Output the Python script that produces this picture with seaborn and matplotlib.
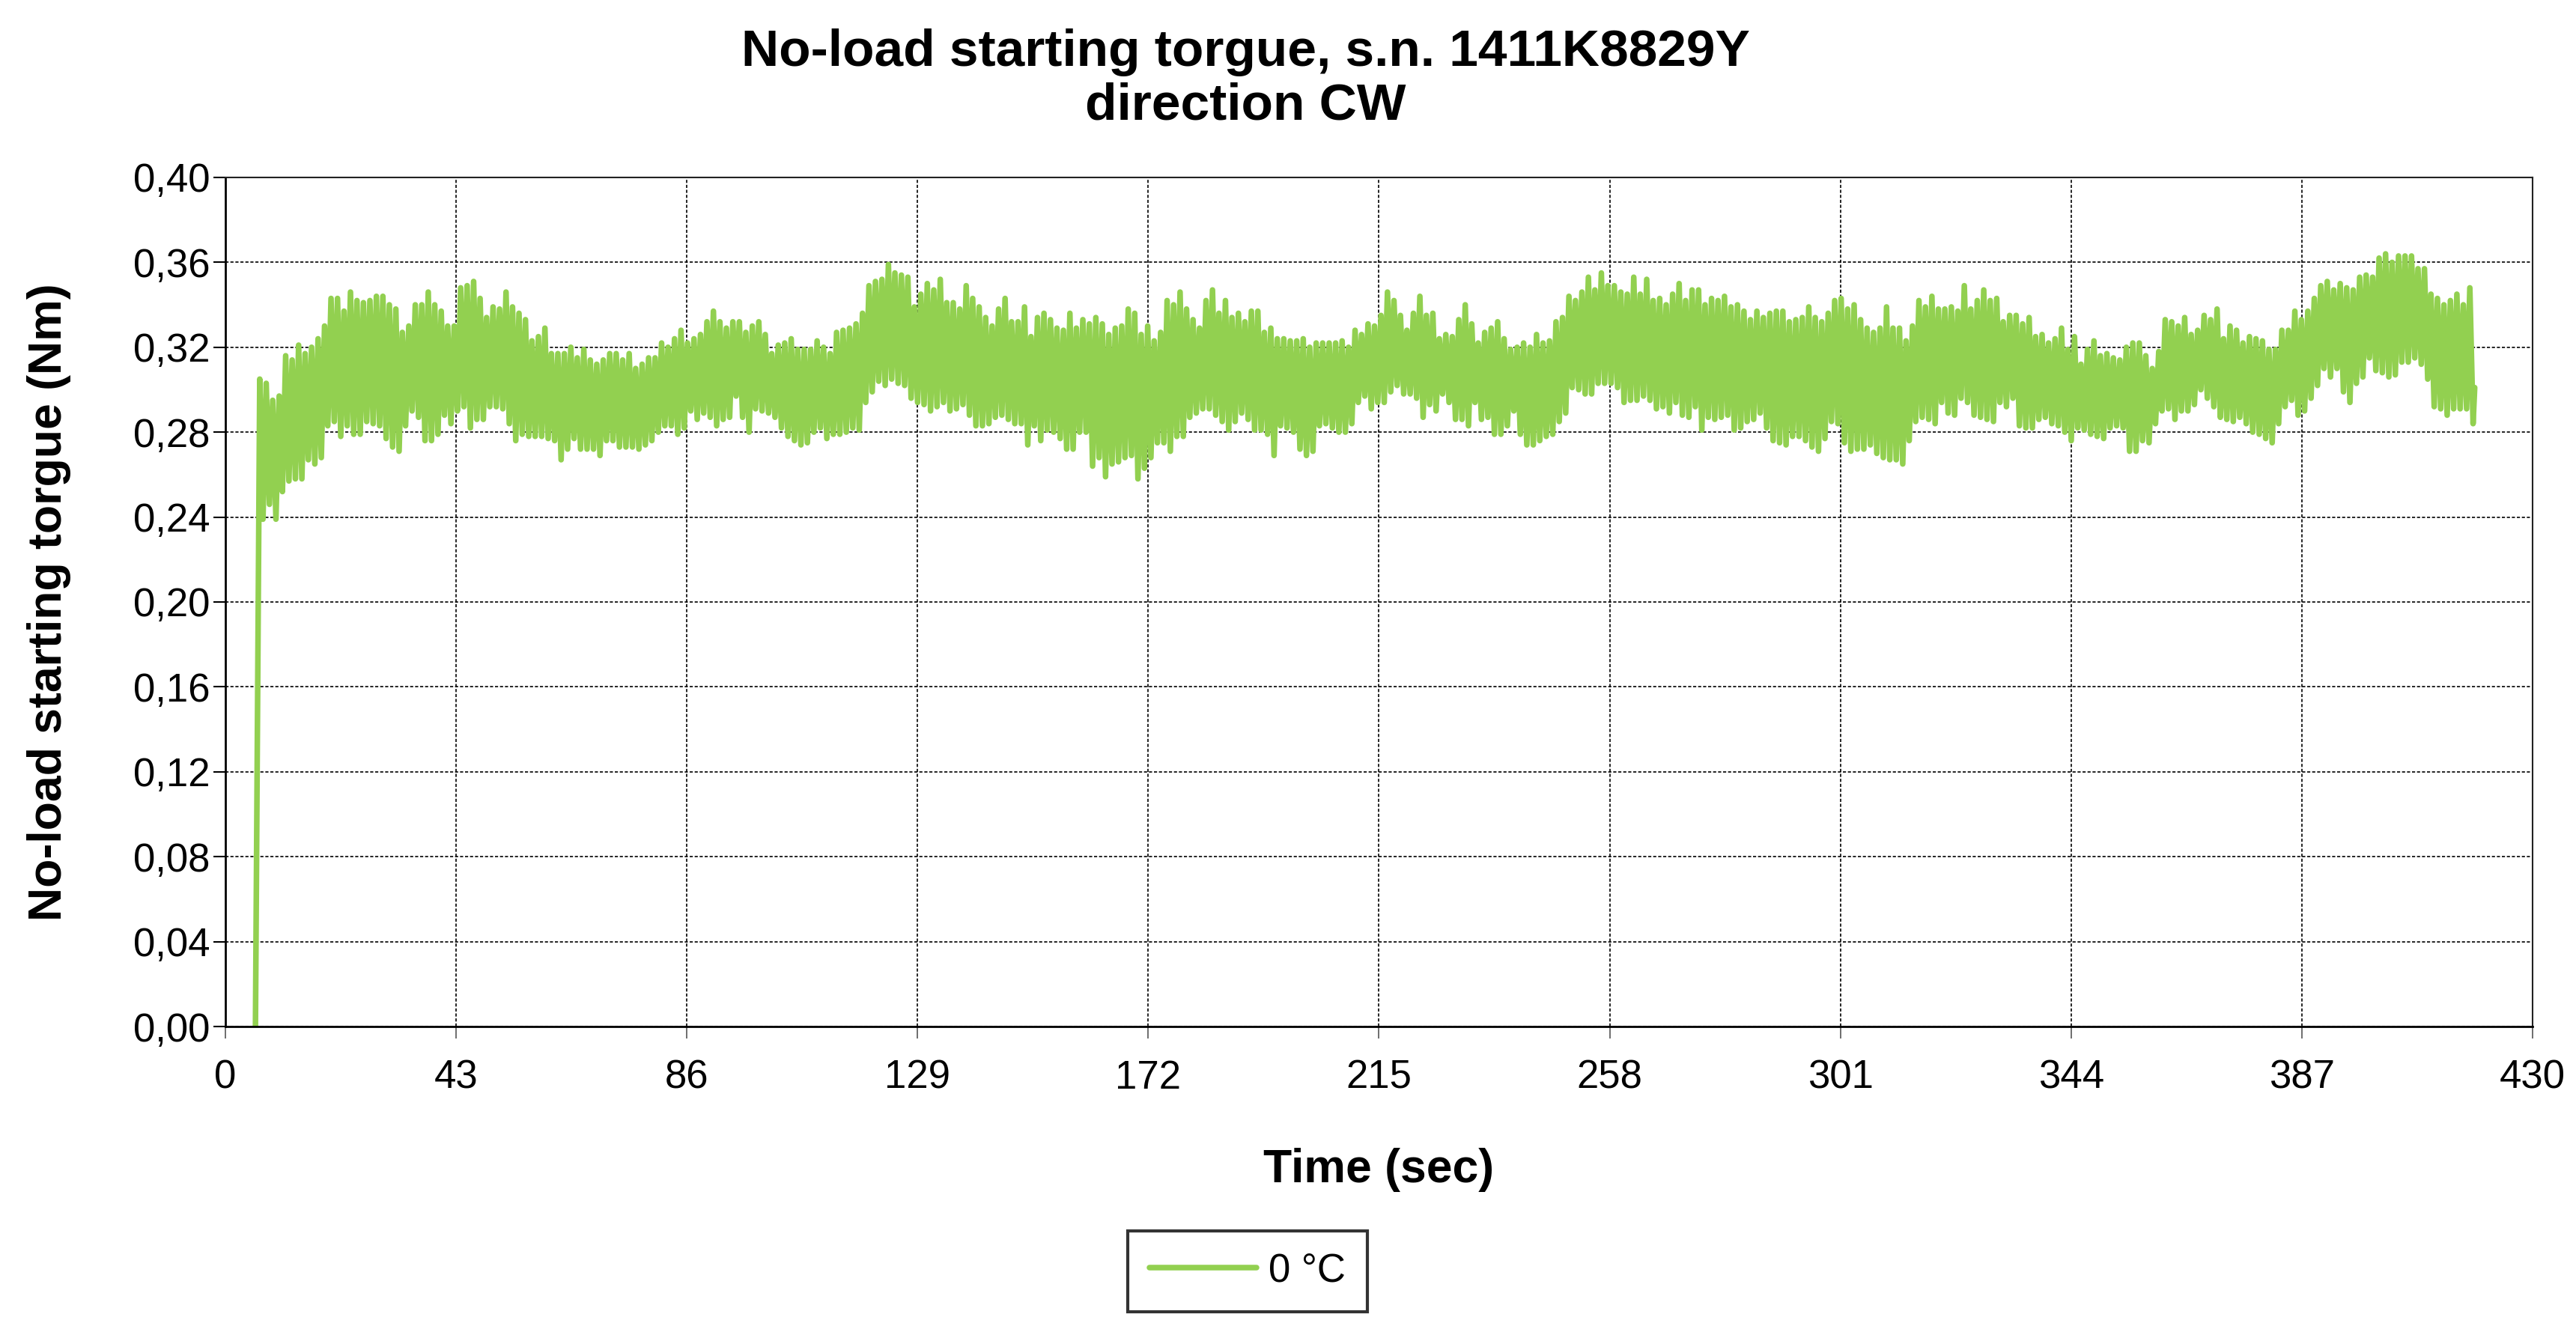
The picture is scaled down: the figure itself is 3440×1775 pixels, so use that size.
"""No-load starting torque trace, s.n. 1411K8829Y, direction CW."""

import matplotlib.pyplot as plt
import numpy as np
import pandas as pd
import seaborn as sns
from matplotlib.ticker import FixedLocator, FuncFormatter

TITLE = "No-load starting torgue, s.n. 1411K8829Y\ndirection CW"
X_LABEL = "Time (sec)"
Y_LABEL = "No-load starting torgue (Nm)"
SERIES_LABEL = "0 °C"

x_ticks = [0, 43, 86, 129, 172, 215, 258, 301, 344, 387, 430]
y_ticks = [0.00, 0.04, 0.08, 0.12, 0.16, 0.20, 0.24, 0.28, 0.32, 0.36, 0.40]

# logged trace: at rest first, then one peak / trough per half cycle
t_rest = 5.6
t_first_peak = 6.4
half_cycle = 0.604
rest_value = 0.0
last_value = 0.301

peaks = [
    0.305, 0.303, 0.295, 0.297, 0.316, 0.314, 0.321, 0.317, 0.320, 0.324,
    0.330, 0.343, 0.343, 0.337, 0.346, 0.342, 0.341, 0.342, 0.344, 0.344,
    0.340, 0.338, 0.327, 0.330, 0.340, 0.340, 0.346, 0.340, 0.337, 0.330,
    0.330, 0.348, 0.349, 0.351, 0.343, 0.334, 0.339, 0.338, 0.346, 0.339,
    0.336, 0.333, 0.323, 0.325, 0.329, 0.317, 0.317, 0.317, 0.320, 0.315,
    0.319, 0.314, 0.312, 0.314, 0.317,
    0.317, 0.314, 0.317, 0.310, 0.312, 0.315, 0.315, 0.322, 0.320, 0.324,
    0.328, 0.322, 0.324, 0.326, 0.332, 0.337, 0.332, 0.329, 0.332, 0.332,
    0.327, 0.330, 0.332, 0.326, 0.317, 0.321, 0.322, 0.324, 0.319, 0.319,
    0.319, 0.323, 0.320, 0.317, 0.327, 0.328, 0.329, 0.331, 0.336, 0.349,
    0.351, 0.352, 0.359, 0.355, 0.354, 0.353, 0.339, 0.345, 0.350, 0.347,
    0.352, 0.341, 0.341, 0.338, 0.349, 0.343, 0.339, 0.334, 0.330, 0.338,
    0.343, 0.332, 0.332, 0.339, 0.325, 0.334, 0.336, 0.333, 0.329, 0.328,
    0.336, 0.329, 0.333, 0.331, 0.334, 0.331, 0.326, 0.329, 0.330, 0.338,
    0.336, 0.326, 0.330, 0.323, 0.327, 0.342, 0.340, 0.346, 0.338, 0.333,
    0.329, 0.342, 0.347, 0.336, 0.342, 0.334, 0.336, 0.332, 0.337, 0.337,
    0.327, 0.329, 0.324, 0.324, 0.323, 0.323, 0.324, 0.320, 0.322, 0.322,
    0.322, 0.322, 0.323, 0.320, 0.328, 0.326, 0.331, 0.330, 0.335, 0.346,
    0.342, 0.335, 0.328, 0.336, 0.344, 0.335, 0.336, 0.324, 0.326, 0.325,
    0.333, 0.340, 0.331, 0.322, 0.327, 0.329, 0.332, 0.324, 0.319, 0.320,
    0.322, 0.320, 0.326, 0.322, 0.323, 0.332, 0.334, 0.344, 0.342, 0.346,
    0.353, 0.347, 0.355, 0.349, 0.349, 0.346, 0.345, 0.353, 0.345, 0.352,
    0.342, 0.343, 0.340, 0.345, 0.350, 0.342, 0.347, 0.347, 0.340, 0.343,
    0.342, 0.344, 0.339, 0.340, 0.337, 0.333, 0.337, 0.334, 0.336, 0.337,
    0.337, 0.332, 0.333, 0.334, 0.339, 0.334, 0.332, 0.336, 0.342, 0.343,
    0.338, 0.340, 0.333, 0.329, 0.327, 0.329, 0.339, 0.329, 0.329, 0.323,
    0.330, 0.342, 0.339, 0.344, 0.338, 0.338, 0.339, 0.337, 0.349, 0.338,
    0.342, 0.347, 0.342, 0.343, 0.332, 0.335, 0.335, 0.331, 0.334, 0.325,
    0.326, 0.322, 0.324, 0.329, 0.319, 0.325, 0.312, 0.319, 0.323, 0.316,
    0.317, 0.315, 0.314, 0.320, 0.322, 0.322, 0.316, 0.310, 0.318, 0.333,
    0.332, 0.330, 0.334, 0.326, 0.328, 0.335, 0.333, 0.338, 0.324, 0.330,
    0.328, 0.322, 0.325, 0.324, 0.323, 0.319, 0.319, 0.328, 0.328, 0.337,
    0.333, 0.337, 0.343, 0.349, 0.351, 0.347, 0.350, 0.348, 0.347, 0.353,
    0.354, 0.353, 0.362, 0.364, 0.360, 0.363, 0.363, 0.363, 0.357, 0.357,
    0.345, 0.343, 0.340, 0.342, 0.345, 0.340, 0.348,
]

troughs = [
    0.239, 0.246, 0.239, 0.252, 0.257, 0.258, 0.258, 0.267, 0.265, 0.268,
    0.283, 0.285, 0.278, 0.283, 0.279, 0.279, 0.285, 0.284, 0.283, 0.277,
    0.273, 0.271, 0.283, 0.290, 0.287, 0.276, 0.276, 0.279, 0.288, 0.284,
    0.290, 0.292, 0.282, 0.286, 0.286, 0.292, 0.292, 0.291, 0.284, 0.276,
    0.279, 0.278, 0.278, 0.278, 0.277, 0.276, 0.267, 0.272, 0.277, 0.272,
    0.272, 0.272, 0.269, 0.276, 0.276,
    0.273, 0.273, 0.273, 0.272, 0.274, 0.276, 0.280, 0.283, 0.283, 0.279,
    0.282, 0.290, 0.286, 0.289, 0.287, 0.283, 0.286, 0.287, 0.297, 0.287,
    0.280, 0.291, 0.290, 0.289, 0.287, 0.282, 0.278, 0.276, 0.274, 0.275,
    0.280, 0.282, 0.277, 0.279, 0.279, 0.280, 0.282, 0.281, 0.294, 0.299,
    0.304, 0.302, 0.305, 0.303, 0.302, 0.296, 0.294, 0.293, 0.290, 0.292,
    0.294, 0.290, 0.291, 0.293, 0.288, 0.283, 0.283, 0.284, 0.287, 0.288,
    0.286, 0.284, 0.284, 0.274, 0.283, 0.276, 0.281, 0.280, 0.277, 0.272,
    0.272, 0.280, 0.280, 0.264, 0.268, 0.259, 0.265, 0.266, 0.268, 0.269,
    0.258, 0.263, 0.268, 0.275, 0.275, 0.271, 0.278, 0.278, 0.287, 0.289,
    0.291, 0.291, 0.288, 0.285, 0.281, 0.285, 0.289, 0.286, 0.281, 0.281,
    0.279, 0.269, 0.283, 0.282, 0.280, 0.272, 0.269, 0.271, 0.283, 0.284,
    0.282, 0.280, 0.280, 0.284, 0.294, 0.297, 0.291, 0.294, 0.294, 0.299,
    0.302, 0.298, 0.298, 0.296, 0.287, 0.293, 0.290, 0.298, 0.294, 0.286,
    0.286, 0.283, 0.294, 0.286, 0.287, 0.279, 0.279, 0.283, 0.290, 0.279,
    0.274, 0.274, 0.276, 0.278, 0.279, 0.285, 0.289, 0.301, 0.300, 0.298,
    0.298, 0.303, 0.303, 0.303, 0.301, 0.294, 0.295, 0.295, 0.297, 0.295,
    0.291, 0.292, 0.289, 0.294, 0.288, 0.287, 0.292, 0.281, 0.287, 0.286,
    0.287, 0.288, 0.281, 0.282, 0.285, 0.286, 0.289, 0.282, 0.276, 0.275,
    0.274, 0.278, 0.278, 0.276, 0.273, 0.271, 0.277, 0.285, 0.284, 0.275,
    0.271, 0.272, 0.272, 0.274, 0.270, 0.268, 0.267, 0.267, 0.265, 0.276,
    0.285, 0.287, 0.286, 0.284, 0.294, 0.289, 0.288, 0.296, 0.294, 0.288,
    0.287, 0.286, 0.285, 0.294, 0.292, 0.296, 0.283, 0.282, 0.282, 0.286,
    0.287, 0.284, 0.283, 0.280, 0.276, 0.282, 0.281, 0.279, 0.278, 0.277,
    0.282, 0.283, 0.282, 0.271, 0.271, 0.276, 0.275, 0.284, 0.290, 0.291,
    0.286, 0.290, 0.290, 0.293, 0.300, 0.296, 0.292, 0.287, 0.286, 0.285,
    0.287, 0.284, 0.280, 0.279, 0.277, 0.275, 0.284, 0.292, 0.295, 0.288,
    0.290, 0.296, 0.302, 0.310, 0.306, 0.310, 0.299, 0.294, 0.303, 0.306,
    0.315, 0.309, 0.308, 0.306, 0.307, 0.313, 0.313, 0.315, 0.312, 0.305,
    0.292, 0.291, 0.288, 0.291, 0.291, 0.291, 0.284,
]

LINE_COLOR = "#92D050"


def build_trace() -> pd.DataFrame:
    """Interleave peaks and troughs into one time-ordered trace."""
    n = len(peaks)
    t_peaks = t_first_peak + 2 * half_cycle * np.arange(n)
    t_troughs = t_peaks + half_cycle
    times = np.empty(2 * n)
    values = np.empty(2 * n)
    times[0::2], times[1::2] = t_peaks, t_troughs
    values[0::2], values[1::2] = peaks, troughs
    times = np.concatenate([[t_rest], times, [times[-1] + half_cycle / 2]])
    values = np.concatenate([[rest_value], values, [last_value]])
    return pd.DataFrame({"time": times, "torque": values})


sns.set_theme(style="white")
plt.rcParams["font.family"] = ["Liberation Sans", "DejaVu Sans"]
plt.rcParams.update({
    "text.color": "black",
    "axes.labelcolor": "black",
    "xtick.labelcolor": "black",
    "ytick.labelcolor": "black",
})

df = build_trace()

fig = plt.figure(figsize=(34.4, 17.75), dpi=100)
ax = fig.add_axes([0.0875, 0.2276, 0.8956, 0.6389])

sns.lineplot(data=df, x="time", y="torque", ax=ax, color=LINE_COLOR,
             linewidth=5.4, estimator=None, sort=False, label=SERIES_LABEL,
             legend=False)

ax.set_xlim(0, 430)
ax.set_ylim(0, 0.40)
ax.xaxis.set_major_locator(FixedLocator(x_ticks))
ax.yaxis.set_major_locator(FixedLocator(y_ticks))
ax.yaxis.set_major_formatter(FuncFormatter(lambda v, _: f"{v:.2f}".replace(".", ",")))

ax.set_axisbelow(True)
ax.grid(True, color="black", linewidth=1.2, linestyle=(0, (2.5, 1.5)))

for side in ["left", "bottom"]:
    ax.spines[side].set_color("black")
    ax.spines[side].set_linewidth(2.0)
for side in ["top", "right"]:
    ax.spines[side].set_color("#222222")
    ax.spines[side].set_linewidth(1.5)

ax.tick_params(axis="y", left=True, length=11.5, width=1.5, color="black",
               labelcolor="black", pad=3, labelsize=38)
ax.tick_params(axis="x", bottom=True, length=11.5, width=1.2, color="#555555",
               labelcolor="black", pad=20, labelsize=38)

ax.set_xlabel(X_LABEL, fontsize=45, fontweight="bold", color="black")
ax.set_ylabel(Y_LABEL, fontsize=45, fontweight="bold", color="black")
ax.xaxis.set_label_coords(0.5, -0.1687)
ax.xaxis.label.set_va("center")
ax.yaxis.set_label_coords(-0.0763, 0.5)
ax.yaxis.label.set_va("center")

# baseline alignment refers to the last line of the title
fig.text(0.4835, 0.9099, TITLE, ha="center", va="baseline", fontsize=50,
         fontweight="bold", linespacing=1.15, color="black")

handles, labels = ax.get_legend_handles_labels()
leg = fig.legend(handles, labels, loc="center", bbox_to_anchor=(0.4843, 0.0434),
                 frameon=True, fancybox=False, edgecolor="black", fontsize=38,
                 handlelength=2.7, handletextpad=0.3, borderpad=0.55,
                 labelcolor="black")
leg.get_frame().set_linewidth(3.0)

fig.savefig("out.png", dpi=100, facecolor="white")
plt.close(fig)
